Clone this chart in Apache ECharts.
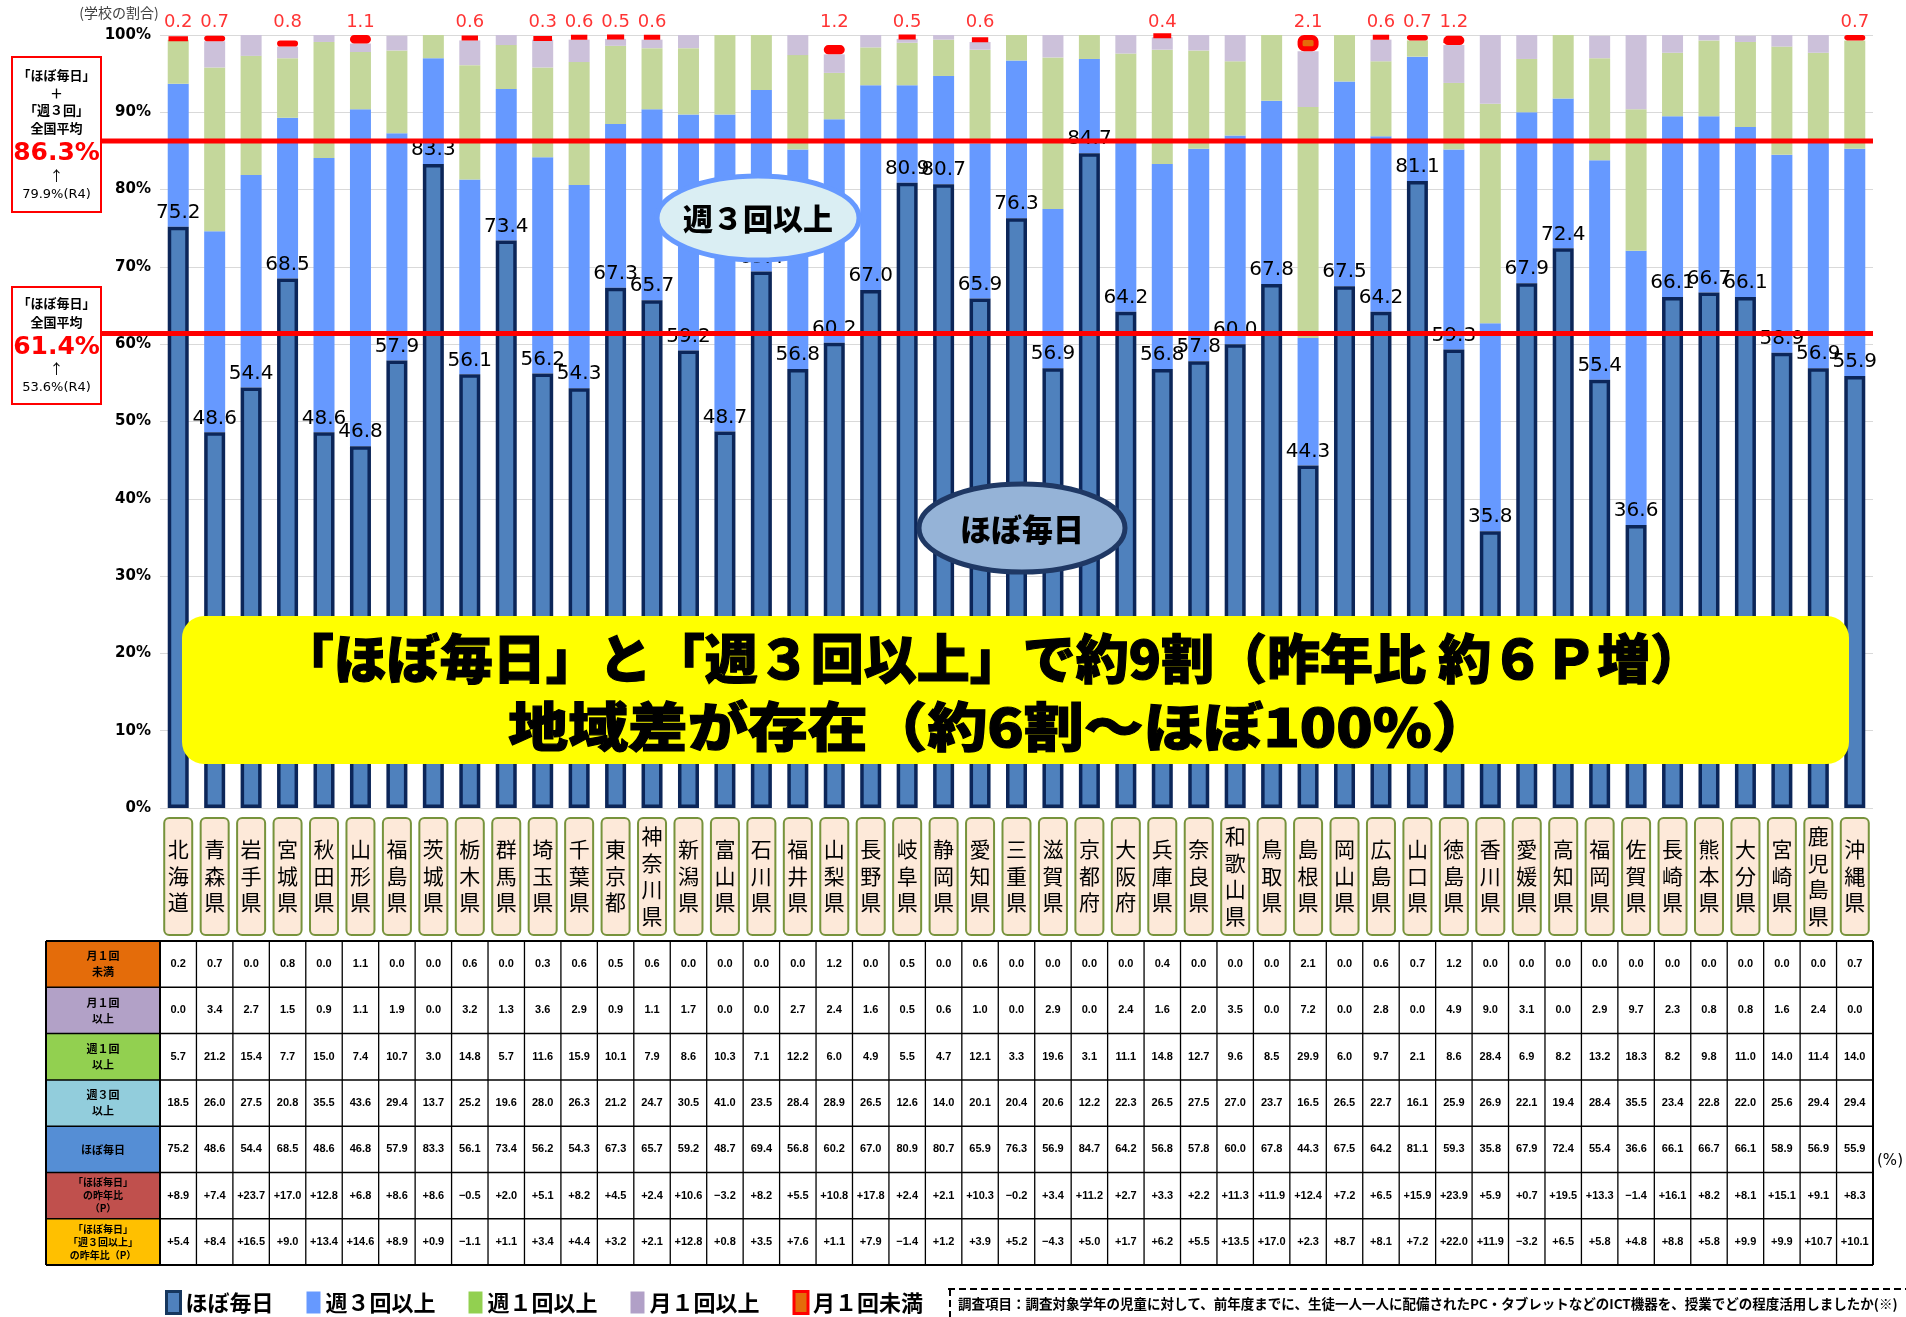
<!DOCTYPE html>
<html><head><meta charset="utf-8">
<script src="https://cdn.jsdelivr.net/npm/echarts@6/dist/echarts.min.js"></script>
<style>html,body{margin:0;padding:0;background:#fff}#main{width:1906px;height:1317px}</style>
</head><body><div id="main"></div>
<script>
// ---------------- DATA ----------------
const prefectures = ['北海道','青森県','岩手県','宮城県','秋田県','山形県','福島県','茨城県','栃木県','群馬県','埼玉県','千葉県','東京都','神奈川県','新潟県','富山県','石川県','福井県','山梨県','長野県','岐阜県','静岡県','愛知県','三重県','滋賀県','京都府','大阪府','兵庫県','奈良県','和歌山県','鳥取県','島根県','岡山県','広島県','山口県','徳島県','香川県','愛媛県','高知県','福岡県','佐賀県','長崎県','熊本県','大分県','宮崎県','鹿児島県','沖縄県'];
const lessThanMonthly = [0.2,0.7,0.0,0.8,0.0,1.1,0.0,0.0,0.6,0.0,0.3,0.6,0.5,0.6,0.0,0.0,0.0,0.0,1.2,0.0,0.5,0.0,0.6,0.0,0.0,0.0,0.0,0.4,0.0,0.0,0.0,2.1,0.0,0.6,0.7,1.2,0.0,0.0,0.0,0.0,0.0,0.0,0.0,0.0,0.0,0.0,0.7];
const monthlyPlus = [0.0,3.4,2.7,1.5,0.9,1.1,1.9,0.0,3.2,1.3,3.6,2.9,0.9,1.1,1.7,0.0,0.0,2.7,2.4,1.6,0.5,0.6,1.0,0.0,2.9,0.0,2.4,1.6,2.0,3.5,0.0,7.2,0.0,2.8,0.0,4.9,9.0,3.1,0.0,2.9,9.7,2.3,0.8,0.8,1.6,2.4,0.0];
const weeklyPlus = [5.7,21.2,15.4,7.7,15.0,7.4,10.7,3.0,14.8,5.7,11.6,15.9,10.1,7.9,8.6,10.3,7.1,12.2,6.0,4.9,5.5,4.7,12.1,3.3,19.6,3.1,11.1,14.8,12.7,9.6,8.5,29.9,6.0,9.7,2.1,8.6,28.4,6.9,8.2,13.2,18.3,8.2,9.8,11.0,14.0,11.4,14.0];
const thricePlus = [18.5,26.0,27.5,20.8,35.5,43.6,29.4,13.7,25.2,19.6,28.0,26.3,21.2,24.7,30.5,41.0,23.5,28.4,28.9,26.5,12.6,14.0,20.1,20.4,20.6,12.2,22.3,26.5,27.5,27.0,23.7,16.5,26.5,22.7,16.1,25.9,26.9,22.1,19.4,28.4,35.5,23.4,22.8,22.0,25.6,29.4,29.4];
const almostDaily = [75.2,48.6,54.4,68.5,48.6,46.8,57.9,83.3,56.1,73.4,56.2,54.3,67.3,65.7,59.2,48.7,69.4,56.8,60.2,67.0,80.9,80.7,65.9,76.3,56.9,84.7,64.2,56.8,57.8,60.0,67.8,44.3,67.5,64.2,81.1,59.3,35.8,67.9,72.4,55.4,36.6,66.1,66.7,66.1,58.9,56.9,55.9];
const dailyDiff = [8.9,7.4,23.7,17.0,12.8,6.8,8.6,8.6,-0.5,2.0,5.1,8.2,4.5,2.4,10.6,-3.2,8.2,5.5,10.8,17.8,2.4,2.1,10.3,-0.2,3.4,11.2,2.7,3.3,2.2,11.3,11.9,12.4,7.2,6.5,15.9,23.9,5.9,0.7,19.5,13.3,-1.4,16.1,8.2,8.1,15.1,9.1,8.3];
const dailyThriceDiff = [5.4,8.4,16.5,9.0,13.4,14.6,8.9,0.9,-1.1,1.1,3.4,4.4,3.2,2.1,12.8,0.8,3.5,7.6,1.1,7.9,-1.4,1.2,3.9,5.2,-4.3,5.0,1.7,6.2,5.5,13.5,17.0,2.3,8.7,8.1,7.2,22.0,11.9,-3.2,6.5,5.8,4.8,8.8,5.8,9.9,9.9,10.7,10.1];
const yTicks = [0,10,20,30,40,50,60,70,80,90,100];
const avgCombined = 86.3, avgCombinedPrev = 79.9;
const avgDaily = 61.4, avgDailyPrev = 53.6;
const seriesNames = ['ほぼ毎日','週３回以上','週１回以上','月１回以上','月１回未満'];
const tableRowLabels = ['月１回\n未満','月１回\n以上','週１回\n以上','週３回\n以上','ほぼ毎日','「ほぼ毎日」\nの昨年比\n（P）','「ほぼ毎日」\n「週３回以上」\nの昨年比（P）'];
const tableRowData = [lessThanMonthly, monthlyPlus, weeklyPlus, thricePlus, almostDaily, dailyDiff, dailyThriceDiff];

// ---------------- CHART ----------------
const CJK = '"Noto Sans CJK JP", "Noto Sans CJK SC", sans-serif';
const chart = echarts.init(document.getElementById('main'));
const BW = 21;
const option = {
  animation: false,
  backgroundColor: '#fff',
  grid: { left: 160, right: 33, top: 35, bottom: 509, containLabel: false },
  legend: {
    left: 160, top: 1285, itemWidth: 14, itemHeight: 22, itemGap: 33, selectedMode: false,
    textStyle: { fontSize: 22, fontWeight: 'bold', fontFamily: CJK, color: '#000' },
    data: [
      { name: seriesNames[0], icon: 'rect', itemStyle: { color: '#4F81BD', borderColor: '#17375E', borderWidth: 3 } },
      { name: seriesNames[1], icon: 'rect', itemStyle: { color: '#6699FF', borderWidth: 0 } },
      { name: seriesNames[2], icon: 'rect', itemStyle: { color: '#92D050', borderWidth: 0 } },
      { name: seriesNames[3], icon: 'rect', itemStyle: { color: '#B1A0C7', borderWidth: 0 } },
      { name: seriesNames[4], icon: 'rect', itemStyle: { color: '#E46C0A', borderColor: '#FF0000', borderWidth: 3 } }
    ]
  },
  xAxis: [{
    type: 'category', data: prefectures, z: 5,
    axisLine: { show: false }, axisTick: { show: false },
    axisLabel: {
      interval: 0, margin: 68, verticalAlign: 'middle', align: 'center',
      formatter: v => v.split('').join('\n'),
      fontSize: 21, lineHeight: 26.5, fontFamily: CJK, color: '#000'
    }
  }],
  yAxis: {
    type: 'value', min: yTicks[0], max: yTicks[yTicks.length - 1], interval: yTicks[1] - yTicks[0],
    axisLine: { show: false }, axisTick: { show: false },
    splitLine: { lineStyle: { color: '#D9D9D9', width: 1 } },
    axisLabel: { formatter: '{value}%', fontWeight: 'bold', fontSize: 15, fontFamily: '"DejaVu Sans"', color: '#000', margin: 9 }
  },
  series: [
    { name: seriesNames[0], type: 'bar', stack: 's', barWidth: BW, z: 3, data: almostDaily,
      itemStyle: { color: '#4F81BD', borderColor: '#0C2659', borderWidth: 3.5 },
      label: { show: true, position: 'top', distance: 4, formatter: p => Number(p.value).toFixed(1),
        fontFamily: '"DejaVu Sans"', fontSize: 20, color: '#000' } },
    { name: seriesNames[1], type: 'bar', stack: 's', barWidth: BW, z: 2, data: thricePlus, itemStyle: { color: '#6699FF' } },
    { name: seriesNames[2], type: 'bar', stack: 's', barWidth: BW, z: 2, data: weeklyPlus, itemStyle: { color: '#C4D79B' } },
    { name: seriesNames[3], type: 'bar', stack: 's', barWidth: BW, z: 2, data: monthlyPlus, itemStyle: { color: '#CCC1DA' } },
    { name: seriesNames[4], type: 'bar', stack: 's', barWidth: BW, z: 4,
      data: lessThanMonthly.map(v => v > 0 ? v : '-'),
      itemStyle: { color: '#E46C0A', borderColor: '#FF0000', borderWidth: 5, borderRadius: 4 } },
    { name: 'top-labels', type: 'scatter', z: 5, symbolSize: 1, silent: true,
      itemStyle: { color: 'rgba(0,0,0,0)' },
      data: lessThanMonthly.map((v, i) => [prefectures[i], 100, v]).filter(d => d[2] > 0),
      label: { show: true, position: 'top', distance: 3, formatter: p => p.value[2].toFixed(1),
        fontFamily: '"DejaVu Sans"', fontSize: 18, color: '#FF0000' } }
  ]
};
chart.setOption(option);

// ---------------- OVERLAYS ----------------
const px = name => chart.convertToPixel({ xAxisIndex: 0 }, name);
const py = v => chart.convertToPixel({ yAxisIndex: 0 }, v);
const step = px(prefectures[1]) - px(prefectures[0]);
const gridLeft = px(prefectures[0]) - step / 2;
const gridRight = px(prefectures[prefectures.length - 1]) + step / 2;
const g = [];
function txt(text, x, y, font, fill, extra) {
  return { type: 'text', z: 60, style: Object.assign({ text, x, y, font, fill: fill || '#000',
    align: 'center', verticalAlign: 'middle', textAlign: 'center', textVerticalAlign: 'middle' }, extra || {}) };
}

// category label boxes
prefectures.forEach(p => g.push({ type: 'rect', z: 1, shape: { x: px(p) - 14, y: 818, width: 28, height: 117, r: 5 },
  style: { fill: '#FDE9D9', stroke: '#77933C', lineWidth: 2 } }));

// table
const tableTop = 941, rowH = 46.3, labelLeft = 46;
const headerColors = ['#E46C0A', '#B2A1C7', '#92D050', '#92CDDC', '#558ED5', '#C0504D', '#FFC000'];
const fmtVal = (v, r) => r >= 5 ? ((v > 0 ? '+' : v < 0 ? '\u2212' : '') + Math.abs(v).toFixed(1)) : v.toFixed(1);
tableRowData.forEach((row, r) => {
  const y0 = tableTop + r * rowH;
  g.push({ type: 'rect', z: 1, shape: { x: labelLeft, y: y0, width: gridLeft - labelLeft, height: rowH }, style: { fill: headerColors[r] } });
  g.push(txt(tableRowLabels[r], (labelLeft + gridLeft) / 2, y0 + rowH / 2,
    'bold ' + (r >= 5 ? 10 : 11) + 'px ' + CJK, '#000', { lineHeight: r >= 5 ? 13 : 16 }));
  row.forEach((v, i) => g.push(txt(fmtVal(v, r), px(prefectures[i]), y0 + rowH / 2, 'bold 11px "Liberation Sans"', '#000')));
});
for (let r = 0; r <= tableRowData.length; r++) {
  const y = tableTop + r * rowH;
  g.push({ type: 'line', z: 2, shape: { x1: labelLeft, y1: y, x2: gridRight, y2: y }, style: { stroke: '#000', lineWidth: (r === 0 || r === tableRowData.length) ? 2 : 1.5 } });
}
g.push({ type: 'line', z: 2, shape: { x1: labelLeft, y1: tableTop, x2: labelLeft, y2: tableTop + 7 * rowH }, style: { stroke: '#000', lineWidth: 2 } });
for (let i = 0; i <= prefectures.length; i++) {
  const x = gridLeft + i * step;
  g.push({ type: 'line', z: 2, shape: { x1: x, y1: tableTop, x2: x, y2: tableTop + 7 * rowH }, style: { stroke: '#000', lineWidth: (i === 0 || i === prefectures.length) ? 2 : 1.3 } });
}
g.push(txt('(%)', 1890, 1161, '15px "DejaVu Sans"', '#000'));

// unit label
g.push(txt('(学校の割合)', 119, 13, '14px ' + CJK, '#404040'));

// national average lines
const yC = py(avgCombined), yD = py(avgDaily);
g.push({ type: 'line', z: 50, shape: { x1: 100, y1: yC, x2: gridRight, y2: yC }, style: { stroke: '#FF0000', lineWidth: 5 } });
g.push({ type: 'line', z: 50, shape: { x1: 100, y1: yD, x2: gridRight, y2: yD }, style: { stroke: '#FF0000', lineWidth: 5 } });

// left callout boxes
g.push({ type: 'rect', z: 55, shape: { x: 12, y: 57, width: 89, height: 155 }, style: { fill: '#fff', stroke: '#FF0000', lineWidth: 2 } });
g.push(txt('「ほぼ毎日」', 56.5, 75, 'bold 13px ' + CJK));
g.push(txt('＋', 56.5, 93, 'bold 13px ' + CJK));
g.push(txt('「週３回」', 56.5, 110, 'bold 13px ' + CJK));
g.push(txt('全国平均', 56.5, 128, 'bold 13px ' + CJK));
g.push(txt(avgCombined.toFixed(1) + '%', 56.5, 153, 'bold 25px "DejaVu Sans"', '#FF0000'));
g.push(txt('↑', 56.5, 176, '14px ' + CJK));
g.push(txt(avgCombinedPrev.toFixed(1) + '%(R4)', 56.5, 195, '13px "DejaVu Sans"'));

g.push({ type: 'rect', z: 55, shape: { x: 12, y: 287, width: 89, height: 117 }, style: { fill: '#fff', stroke: '#FF0000', lineWidth: 2 } });
g.push(txt('「ほぼ毎日」', 56.5, 303, 'bold 13px ' + CJK));
g.push(txt('全国平均', 56.5, 322, 'bold 13px ' + CJK));
g.push(txt(avgDaily.toFixed(1) + '%', 56.5, 347, 'bold 25px "DejaVu Sans"', '#FF0000'));
g.push(txt('↑', 56.5, 369, '14px ' + CJK));
g.push(txt(avgDailyPrev.toFixed(1) + '%(R4)', 56.5, 388, '13px "DejaVu Sans"'));

// ellipses
g.push({ type: 'ellipse', z: 60, shape: { cx: 758, cy: 218, rx: 101, ry: 42 }, style: { fill: '#DAEEF3', stroke: '#6699FF', lineWidth: 5 } });
g.push(txt('週３回以上', 758, 219, '900 30px ' + CJK, '#000'));
g.push({ type: 'ellipse', z: 60, shape: { cx: 1022, cy: 528, rx: 103, ry: 44 }, style: { fill: '#95B3D7', stroke: '#1F3864', lineWidth: 5 } });
g.push(txt('ほぼ毎日', 1022, 529, '900 31px ' + CJK, '#000'));

// banner
g.push({ type: 'rect', z: 60, shape: { x: 182, y: 616, width: 1667, height: 148, r: 22 }, style: { fill: '#FFFF00' } });
g.push(txt('「ほぼ毎日」と「週３回以上」で約9割（昨年比 約６Ｐ増）', 992, 659, '900 53px ' + CJK, '#000', { stroke: '#000', lineWidth: 1.2 }));
const line2 = txt('地域差が存在（約6割～ほぼ100%）', 0, 0, '900 53px ' + CJK, '#000', { stroke: '#000', lineWidth: 1.2 });
line2.x = 1000; line2.y = 727; line2.scaleX = 1.13;
g.push(line2);

// survey note
g.push({ type: 'line', z: 5, shape: { x1: 948, y1: 1289, x2: 1906, y2: 1289 }, style: { stroke: '#000', lineWidth: 2, lineDash: [7, 4] } });
g.push({ type: 'line', z: 5, shape: { x1: 950, y1: 1289, x2: 950, y2: 1317 }, style: { stroke: '#000', lineWidth: 2, lineDash: [7, 4] } });
g.push(txt('調査項目：調査対象学年の児童に対して、前年度までに、生徒一人一人に配備されたPC・タブレットなどのICT機器を、授業でどの程度活用しましたか(※)',
  958, 1304, 'bold 13.5px ' + CJK, '#000', { align: 'left', textAlign: 'left' }));

chart.setOption({ graphic: { elements: g } });
</script>
</body></html>
